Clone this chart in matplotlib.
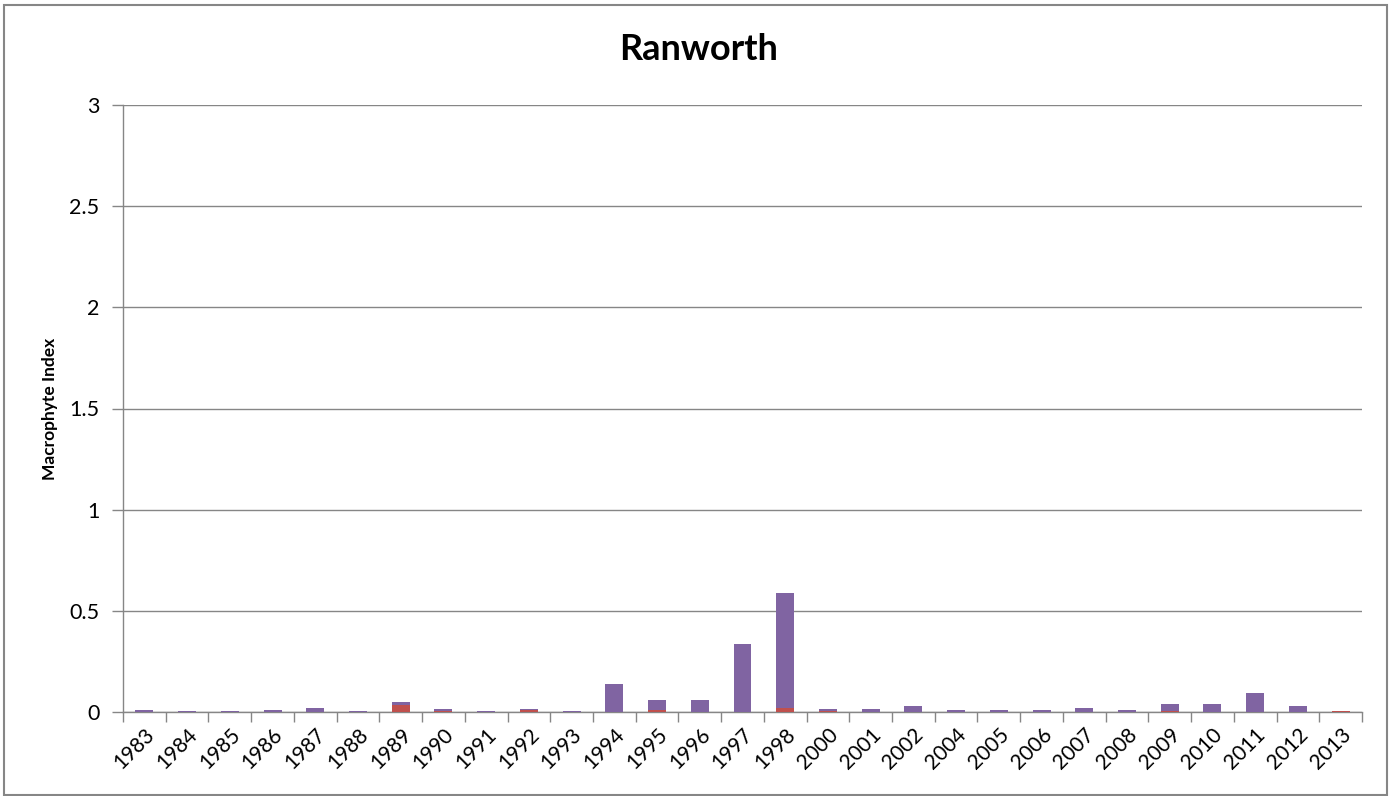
# Ranworth macrophyte index by year, stacked columns
import numpy as np
import matplotlib as mpl
import matplotlib.pyplot as plt
from matplotlib.patches import Rectangle

years = ["1983", "1984", "1985", "1986", "1987", "1988", "1989", "1990",
         "1991", "1992", "1993", "1994", "1995", "1996", "1997", "1998",
         "2000", "2001", "2002", "2004", "2005", "2006", "2007", "2008",
         "2009", "2010", "2011", "2012", "2013"]

# lower (red) component of each column
index_red = [0.0, 0.0, 0.0, 0.0, 0.0, 0.0, 0.034, 0.006,
             0.0, 0.008, 0.0, 0.0, 0.011, 0.0, 0.0, 0.018,
             0.005, 0.0, 0.0, 0.0, 0.0, 0.0, 0.0, 0.0,
             0.004, 0.0, 0.0, 0.0, 0.007]

# upper (purple) component of each column
index_purple = [0.012, 0.006, 0.006, 0.012, 0.018, 0.005, 0.013, 0.007,
                0.006, 0.005, 0.006, 0.136, 0.046, 0.057, 0.338, 0.569,
                0.008, 0.013, 0.028, 0.012, 0.012, 0.012, 0.018, 0.012,
                0.037, 0.041, 0.092, 0.028, 0.0]

RED = "#C0504D"
PURPLE = "#8064A2"
GRID = "#868686"


def main():
    mpl.rcParams["font.family"] = ["Lato", "DejaVu Sans"]

    fig = plt.figure(figsize=(13.97, 7.96), dpi=100)
    ax = fig.add_axes([123 / 1397, 1 - 712 / 796,
                       (1362 - 123) / 1397, (712 - 105) / 796])

    x = np.arange(len(years))
    red = np.array(index_red)
    purple = np.array(index_purple)
    ax.bar(x, red, width=0.42, color=RED, linewidth=0, zorder=3)
    ax.bar(x, purple, bottom=red, width=0.42, color=PURPLE,
           linewidth=0, zorder=3)

    ax.set_xlim(-0.5, len(years) - 0.5)
    ax.set_ylim(0, 3)
    ax.set_yticks([0, 0.5, 1, 1.5, 2, 2.5, 3])
    ax.set_yticklabels(["0", "0.5", "1", "1.5", "2", "2.5", "3"])
    ax.yaxis.grid(True, color=GRID, linewidth=1.0, zorder=0)
    ax.set_axisbelow(True)

    # category labels centred, tick marks on the boundaries
    ax.set_xticks(x)
    ax.set_xticklabels(years, rotation=45, ha="right", va="top",
                       rotation_mode="anchor", fontsize=15)
    ax.tick_params(axis="x", length=0, pad=9)
    ax.set_xticks(np.arange(-0.5, len(years)), minor=True)
    ax.tick_params(axis="x", which="minor", length=7, color=GRID,
                   width=1.0, direction="out")
    ax.tick_params(axis="y", length=8, color=GRID, width=1.0,
                   labelsize=15.5, pad=9)

    for side in ["top", "right"]:
        ax.spines[side].set_visible(False)
    for side in ["left", "bottom"]:
        ax.spines[side].set_color(GRID)
        ax.spines[side].set_linewidth(1.0)

    ax.set_ylabel("Macrophyte Index", fontsize=12.5, fontweight="bold",
                  labelpad=8)
    fig.text(0.5, 1 - 50 / 796, "Ranworth", ha="center", va="center",
             fontsize=26, fontweight="bold")

    # outer chart border
    fig.patches.append(Rectangle((4 / 1397, 1 / 796), 1383 / 1397,
                                 790 / 796, transform=fig.transFigure,
                                 fill=False, edgecolor=GRID,
                                 linewidth=1.5))

    fig.savefig("out.png", dpi=100)


if __name__ == '__main__':
    main()
